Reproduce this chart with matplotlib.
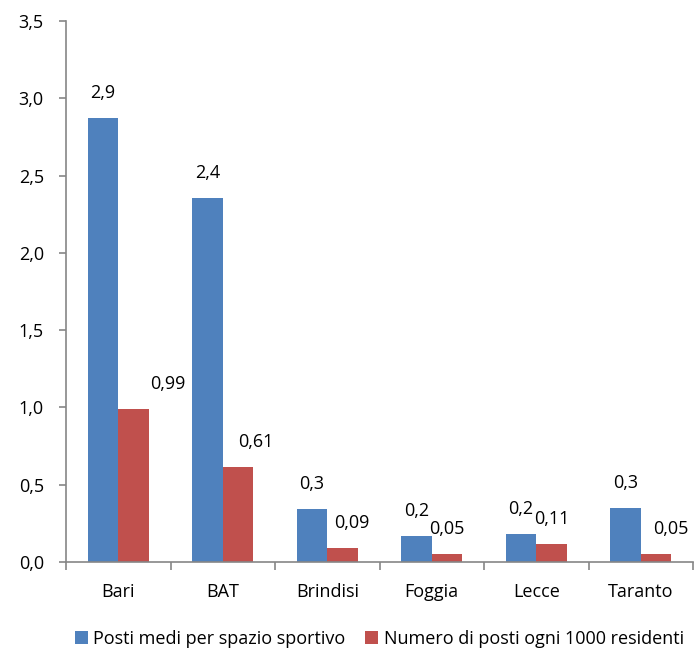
import matplotlib
matplotlib.use("Agg")
import matplotlib.pyplot as plt
import numpy as np

plt.rcParams['font.family'] = ['Open Sans', 'DejaVu Sans']

# data
provinces = ['Bari', 'BAT', 'Brindisi', 'Foggia', 'Lecce', 'Taranto']
posti_medi = [2.87, 2.355, 0.345, 0.17, 0.178, 0.35]
posti_1000 = [0.99, 0.614, 0.09, 0.05, 0.115, 0.05]
labels_medi = ['2,9', '2,4', '0,3', '0,2', '0,2', '0,3']
labels_1000 = ['0,99', '0,61', '0,09', '0,05', '0,11', '0,05']
yticks = [0.0, 0.5, 1.0, 1.5, 2.0, 2.5, 3.0, 3.5]

# horizontal shift (points) of the red labels, as placed in the original
red_label_dx = [25, 13, 7, 0, 0, 11]

blue = '#4F81BD'
red = '#C0504D'
axis_grey = '#868686'
fs = 13

fig = plt.figure(figsize=(6.94, 6.52), dpi=100)
ax = fig.add_axes([66 / 694, 1 - 562 / 652, 627 / 694, 541 / 652])

x = np.arange(len(provinces))
w = 0.29
b1 = ax.bar(x - w / 2, posti_medi, w, color=blue, edgecolor='none',
            label='Posti medi per spazio sportivo')
b2 = ax.bar(x + w / 2, posti_1000, w, color=red, edgecolor='none',
            label='Numero di posti ogni 1000 residenti')

for rect, lab in zip(b1, labels_medi):
    ax.annotate(lab, (rect.get_x() + rect.get_width() / 2, rect.get_height()),
                xytext=(0, 18), textcoords='offset points',
                ha='center', va='center', fontsize=fs)
for rect, lab, dx in zip(b2, labels_1000, red_label_dx):
    ax.annotate(lab, (rect.get_x() + rect.get_width() / 2, rect.get_height()),
                xytext=(dx, 18), textcoords='offset points',
                ha='center', va='center', fontsize=fs)

ax.set_xlim(-0.5, len(provinces) - 0.5)
ax.set_ylim(0, 3.5)
ax.set_yticks(yticks)
ax.set_yticklabels([f'{v:.1f}'.replace('.', ',') for v in yticks])
ax.set_xticks(x)
ax.set_xticklabels(provinces)
ax.set_xticks(np.arange(len(provinces) + 1) - 0.5, minor=True)

for s in ['top', 'right']:
    ax.spines[s].set_visible(False)
for s in ['left', 'bottom']:
    ax.spines[s].set_color(axis_grey)
    ax.spines[s].set_linewidth(1.2)

ax.tick_params(axis='y', length=5, width=1.2, color=axis_grey, pad=11, labelsize=fs)
ax.tick_params(axis='x', which='major', length=0, pad=15, labelsize=fs)
ax.tick_params(axis='x', which='minor', length=6, width=1.2, color=axis_grey)

ax.legend(loc='upper center', bbox_to_anchor=(0.5, -0.095), ncol=2, frameon=False,
          fontsize=fs, handlelength=0.7, handleheight=0.7, handletextpad=0.3,
          columnspacing=1.1)

fig.savefig('out.png', dpi=100)
